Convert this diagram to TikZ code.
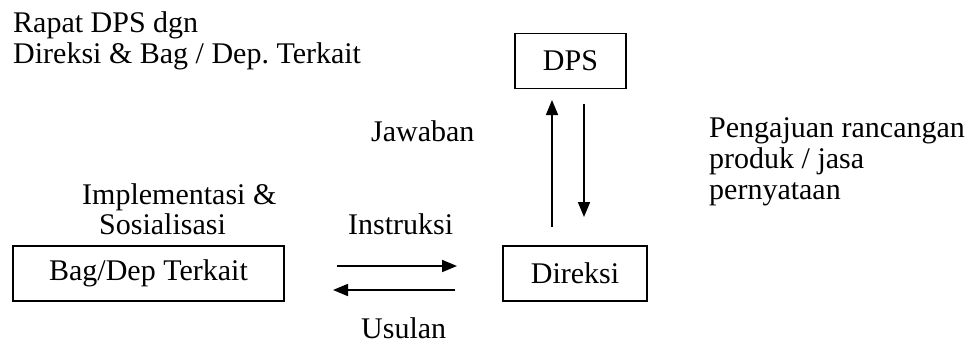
\documentclass[tikz,border=0pt]{standalone}
\usepackage{fontspec}
\setmainfont{Liberation Serif}
\usetikzlibrary{arrows.meta}
\frenchspacing
\begin{document}
\begin{tikzpicture}[x=1pt,y=-1pt,
  every node/.style={font=\fontsize{30}{31}\selectfont},
  box/.style={draw,line width=1.6pt,inner sep=0pt,minimum height=55pt},
  lbl/.style={anchor=base west,inner sep=0pt,align=left},
  flow/.style={line width=1.7pt,-{Triangle[length=15pt,width=12pt]}}]
\useasboundingbox (0,0) rectangle (972,343);

% boxes
\node[box,minimum width=111pt] (dps) at (570.5,61) {DPS};
\node[box,minimum width=271pt] (bag) at (148.5,273.5) {Bag/Dep Terkait};
\node[box,minimum width=144pt] (dir) at (575,273.5) {Direksi};

% free text
\node[lbl] (rapat) at (13,32) {Rapat DPS dgn};
\node[lbl] (rapat2) at (13,63) {Direksi \& Bag / Dep. Terkait};
\node[lbl] (jaw) at (371,141) {Jawaban};
\node[lbl] (peng1) at (709,137) {Pengajuan rancangan};
\node[lbl] (peng2) at (709,168) {produk / jasa};
\node[lbl] (peng3) at (709,199) {pernyataan};
\node[lbl] (impl) at (82,204) {Implementasi \&};
\node[lbl] (sos) at (99,234) {Sosialisasi};
\node[lbl] (ins) at (348,234) {Instruksi};
\node[lbl] (usu) at (361,338) {Usulan};

% arrow end points
\coordinate (upA) at (552,227);
\coordinate (upB) at (552,100);
\coordinate (dnA) at (584,104);
\coordinate (dnB) at (584,217);
\coordinate (rtA) at (337,266);
\coordinate (rtB) at (457,266);
\coordinate (ltA) at (455,290);
\coordinate (ltB) at (333,290);

\draw[flow] (upA) -- (upB);
\draw[flow] (dnA) -- (dnB);
\draw[flow] (rtA) -- (rtB);
\draw[flow] (ltA) -- (ltB);
\end{tikzpicture}
\end{document}
